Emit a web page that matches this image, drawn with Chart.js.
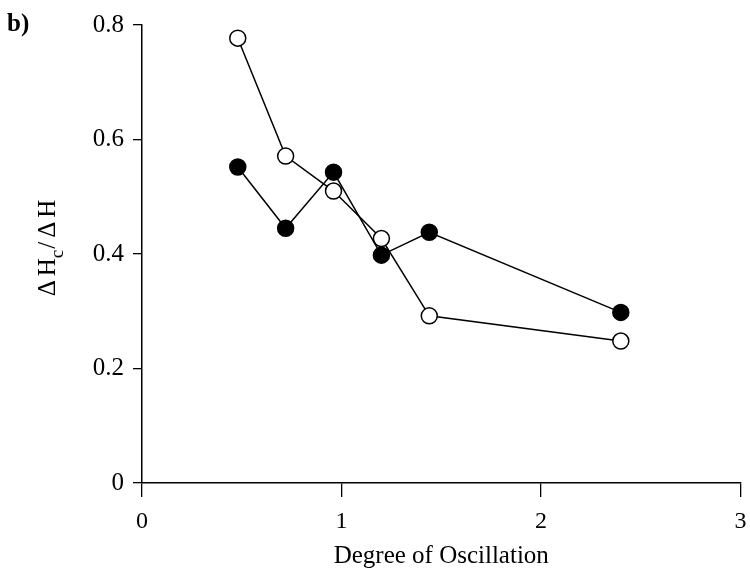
<!DOCTYPE html>
<html><head><meta charset="utf-8">
<script src="https://cdn.jsdelivr.net/npm/chart.js@4/dist/chart.umd.min.js"></script>
<style>html,body{margin:0;padding:0;background:#fff}#wrap{width:750px;height:571px}</style>
</head><body><div id="wrap"><canvas id="c" width="750" height="571"></canvas></div>
<script>
// Data
const xValues = [0.48, 0.72, 0.96, 1.20, 1.44, 2.40];
const openValues = [0.777, 0.571, 0.510, 0.427, 0.292, 0.248];
const filledValues = [0.552, 0.445, 0.543, 0.398, 0.438, 0.298];
const xTicks = [0, 1, 2, 3];
const yTicks = [0, 0.2, 0.4, 0.6, 0.8];
const xTitle = 'Degree of Oscillation';
const panelLabel = 'b)';

const FONT = '"Liberation Serif", "DejaVu Serif", serif';

const toPoints = (ys) => xValues.map((x, i) => ({ x: x, y: ys[i] }));

const extraText = {
  id: 'extraText',
  afterDraw(chart) {
    const ctx = chart.ctx;
    ctx.save();
    ctx.fillStyle = '#000';
    // panel label
    ctx.font = 'bold 25px ' + FONT;
    ctx.textAlign = 'left';
    ctx.textBaseline = 'alphabetic';
    ctx.fillText(panelLabel, 7, 31);
    // y title: ΔH_c/ΔH rotated
    const ca = chart.chartArea;
    const cy = (ca.top + ca.bottom) / 2 - 6;
    ctx.translate(55, cy);
    ctx.rotate(-Math.PI / 2);
    const big = '25px ' + FONT;
    const small = '19px ' + FONT;
    const parts = [
      { t: 'Δ', f: big, dy: 0, gap: 4 },
      { t: 'H', f: big, dy: 0, gap: 0 },
      { t: 'c', f: small, dy: 8, gap: 1 },
      { t: '/', f: big, dy: 0, gap: 4 },
      { t: 'Δ', f: big, dy: 0, gap: 4 },
      { t: 'H', f: big, dy: 0, gap: 0 }
    ];
    let total = 0;
    parts.forEach(p => { ctx.font = p.f; p.w = ctx.measureText(p.t).width; total += p.w + p.gap; });
    let x = -total / 2;
    ctx.textAlign = 'left';
    ctx.textBaseline = 'alphabetic';
    parts.forEach(p => { ctx.font = p.f; ctx.fillText(p.t, x, p.dy); x += p.w + p.gap; });
    ctx.restore();
  }
};

new Chart(document.getElementById('c'), {
  type: 'scatter',
  data: {
    datasets: [
      {
        label: 'filled',
        data: toPoints(filledValues),
        showLine: true,
        borderColor: '#000',
        borderWidth: 1.5,
        pointBackgroundColor: '#000',
        pointBorderColor: '#000',
        pointBorderWidth: 1.5,
        pointRadius: 8,
        pointHoverRadius: 8,
        tension: 0,
        clip: false
      },
      {
        label: 'open',
        data: toPoints(openValues),
        showLine: true,
        borderColor: '#000',
        borderWidth: 1.5,
        pointBackgroundColor: '#fff',
        pointBorderColor: '#000',
        pointBorderWidth: 1.5,
        pointRadius: 8,
        pointHoverRadius: 8,
        tension: 0,
        clip: false
      }
    ]
  },
  options: {
    responsive: false,
    devicePixelRatio: 1,
    animation: false,
    layout: { padding: { left: 0, right: 1, top: 25, bottom: 0 } },
    plugins: { legend: { display: false }, tooltip: { enabled: false } },
    scales: {
      x: {
        type: 'linear',
        min: 0, max: 3,
        afterBuildTicks: s => { s.ticks = xTicks.map(v => ({ value: v })); },
        afterFit: s => { s.height = 88; s.paddingLeft = 0; s.paddingRight = 0; },
        grid: { drawOnChartArea: false, drawTicks: true, tickLength: 14, color: '#000', lineWidth: 1.3 },
        border: { display: true, color: '#000', width: 1.5 },
        ticks: { color: '#000', font: { family: FONT, size: 24 }, padding: 10, maxRotation: 0, callback: v => String(v) },
        title: { display: true, text: xTitle, color: '#000', font: { family: FONT, size: 25 }, padding: { top: 0, bottom: 0 } }
      },
      y: {
        type: 'linear',
        min: 0, max: 0.8,
        afterBuildTicks: s => { s.ticks = yTicks.map(v => ({ value: v })); },
        afterFit: s => { s.width = 142; s.paddingTop = 0; s.paddingBottom = 0; },
        grid: { drawOnChartArea: false, drawTicks: true, tickLength: 9, color: '#000', lineWidth: 1.3 },
        border: { display: true, color: '#000', width: 1.5 },
        ticks: { color: '#000', font: { family: FONT, size: 25 }, padding: 9, callback: v => (v === 0 ? '0' : v.toFixed(1)) }
      }
    }
  },
  plugins: [extraText]
});
</script>
</body></html>
